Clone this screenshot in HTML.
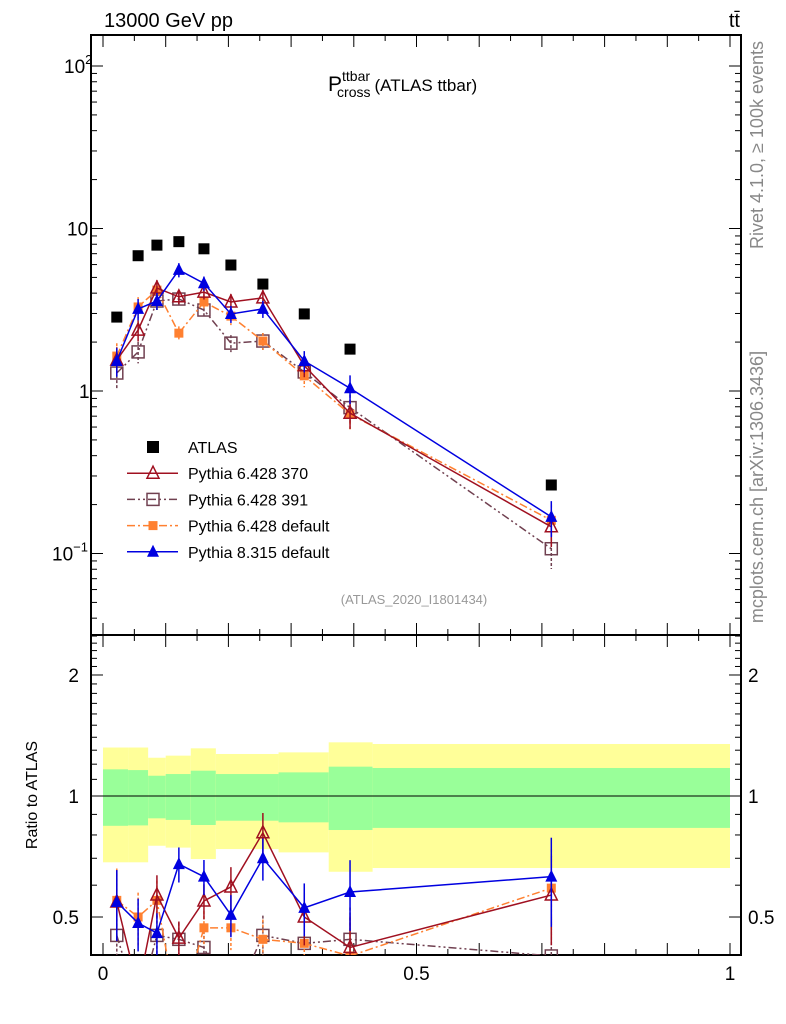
<!DOCTYPE html>
<html><head><meta charset="utf-8"><style>
body{margin:0;background:#fff;}
svg{display:block;font-family:"Liberation Sans",sans-serif;}
</style></head><body>
<svg id="c" width="786" height="1024" viewBox="0 0 786 1024">
<g id="bands"></g><g id="axes"></g><g id="series"></g>
<text x="104" y="27" font-size="20">13000 GeV pp</text>
<text x="740" y="27" font-size="20" text-anchor="end">tt̄</text>
<text x="328" y="91" font-size="21">P<tspan font-size="14" dy="-10">ttbar</tspan><tspan font-size="14" dx="-33" dy="16">cross</tspan><tspan font-size="17" dy="-6" dx="4">(ATLAS ttbar)</tspan></text>
<text x="414" y="604" font-size="13" fill="#999" text-anchor="middle">(ATLAS_2020_I1801434)</text>
<text transform="translate(763,145) rotate(-90)" font-size="18" fill="#888" text-anchor="middle">Rivet 4.1.0, ≥ 100k events</text>
<text transform="translate(763,487) rotate(-90)" font-size="18" fill="#888" text-anchor="middle">mcplots.cern.ch [arXiv:1306.3436]</text>
<text transform="translate(37,795) rotate(-90)" font-size="16" text-anchor="middle">Ratio to ATLAS</text>
<g id="legend"></g>
</svg>
<script>
const xs=[0.022,0.056,0.086,0.121,0.161,0.204,0.255,0.321,0.394,0.715];
const atlas=[2.85,6.8,7.9,8.3,7.5,5.96,4.55,2.98,1.81,0.264];
const p8=[1.53,3.2,3.58,5.56,4.6,2.98,3.2,1.53,1.04,0.168];
const p370=[1.55,2.37,4.3,3.8,4.06,3.53,3.74,1.43,0.73,0.146];
const p391=[1.29,1.74,3.58,3.68,3.15,1.97,2.03,1.31,0.79,0.107];
const pdef=[1.64,3.29,4.18,2.27,3.53,2.89,2.03,1.24,0.72,0.16];
const r8=[0.545,0.483,0.456,0.677,0.63,0.506,0.70,0.527,0.577,0.63];
const r370=[0.545,0.33,0.567,0.443,0.548,0.594,0.81,0.5,0.42,0.567];
const r391=[0.45,0.3,0.45,0.44,0.42,0.3,0.45,0.43,0.44,0.40];
const rdef=[0.55,0.5,0.55,0.28,0.47,0.47,0.44,0.43,0.40,0.59];
const relErr=[0.2,0.15,0.12,0.1,0.1,0.12,0.12,0.15,0.2,0.25];
const binEdges=[0,0.04,0.072,0.1,0.14,0.18,0.28,0.36,0.43,1.0];
const yelHi=[1.32,1.32,1.245,1.26,1.314,1.272,1.284,1.36,1.347];
const grnHi=[1.165,1.16,1.123,1.134,1.156,1.134,1.145,1.183,1.174];
const grnLo=[0.843,0.845,0.88,0.872,0.847,0.868,0.86,0.823,0.833];
const yelLo=[0.684,0.684,0.752,0.744,0.697,0.738,0.724,0.648,0.662];
const xTicks=[0,0.5,1];const xTickLabels=["0","0.5","1"];
const rTicks=[0.5,1,2];const rTickLabels=["0.5","1","2"];

const NS="http://www.w3.org/2000/svg";
const L=91,R=741,T=35,MB=635,RB=955;
const X=v=>103+v*627;
const Y=v=>391-Math.log10(v)*162.5;
const RY=v=>796-Math.log10(v)*402;
function mk(tag,at,par){const e=document.createElementNS(NS,tag);for(const k in at)e.setAttribute(k,at[k]);par.appendChild(e);return e;}
const gB=document.getElementById('bands'),gA=document.getElementById('axes'),gS=document.getElementById('series'),gL=document.getElementById('legend');
const defs=mk('defs',{},gA);
const c1=mk('clipPath',{id:'cm'},defs);mk('rect',{x:L,y:T,width:R-L,height:MB-T},c1);
const c2=mk('clipPath',{id:'cr'},defs);mk('rect',{x:L,y:MB,width:R-L,height:RB-MB},c2);
for(let i=0;i<binEdges.length-1;i++){
 const x0=X(binEdges[i]),w=X(binEdges[i+1])-x0;
 let r=mk('rect',{x:x0,y:RY(yelHi[i]),width:w,height:RY(yelLo[i])-RY(yelHi[i]),fill:'#ffff99'},gB);
 
 r=mk('rect',{x:x0,y:RY(grnHi[i]),width:w,height:RY(grnLo[i])-RY(grnHi[i]),fill:'#99ff99'},gB);
 
}
mk('line',{x1:L,x2:R,y1:RY(1),y2:RY(1),stroke:'#000','stroke-width':1},gB);
let f=mk('rect',{x:L,y:T,width:R-L,height:MB-T,fill:'none',stroke:'#000','stroke-width':2},gA);

f=mk('rect',{x:L,y:MB,width:R-L,height:RB-MB,fill:'none',stroke:'#000','stroke-width':2},gA);

for(let k=0;k<=20;k++){const v=k*0.05,x=X(v),len=(k%2==0)?12:6;
 mk('line',{x1:x,x2:x,y1:T,y2:T+len,stroke:'#000'},gA);
 mk('line',{x1:x,x2:x,y1:MB,y2:MB-len,stroke:'#000'},gA);
 mk('line',{x1:x,x2:x,y1:MB,y2:MB+len,stroke:'#000'},gA);
 mk('line',{x1:x,x2:x,y1:RB,y2:RB-len,stroke:'#000'},gA);}
xTicks.forEach((v,i)=>{const t=mk('text',{x:X(v),y:RB+25,'font-size':19,'text-anchor':'middle'},gA);t.textContent=xTickLabels[i];
 });
for(let d=-2;d<=2;d++)for(let m=1;m<10;m++){const v=m*Math.pow(10,d),y=Y(v);if(y<T||y>MB)continue;const len=m==1?12:6;
 mk('line',{x1:L,x2:L+len,y1:y,y2:y,stroke:'#000'},gA);mk('line',{x1:R,x2:R-len,y1:y,y2:y,stroke:'#000'},gA);}
[[Y(100),'10','2'],[Y(10),'10',''],[Y(1),'1',''],[Y(0.1),'10','−1']].forEach(a=>{
 const t=mk('text',{x:a[2]?(a[2]=='2'?64:52):(a[1]=='1'?79:67),y:a[0]+7,'font-size':19},gA);t.textContent=a[1];
 
 if(a[2]){const s=mk('tspan',{'font-size':13,dy:-9},t);s.textContent=a[2];}});
[0.4,0.5,0.6,0.7,0.8,0.9,1,1.1,1.2,1.3,1.4,1.5,1.6,1.7,1.8,1.9,2,2.1,2.2,2.3,2.4,2.5].forEach(v=>{const y=RY(v);if(y<MB||y>RB)return;
 const len=[0.5,1,2].includes(v)?12:6;
 mk('line',{x1:L,x2:L+len,y1:y,y2:y,stroke:'#000'},gA);mk('line',{x1:R,x2:R-len,y1:y,y2:y,stroke:'#000'},gA);});
rTicks.forEach((v,i)=>{[[79,'end'],[748,'start']].forEach(p=>{const t=mk('text',{x:p[0],y:RY(v)+7,'font-size':19,'text-anchor':p[1]},gA);t.textContent=rTickLabels[i];
 });});
function marker(g,type,x,y,col,s){
 if(type=='sq')mk('rect',{x:x-s,y:y-s,width:2*s,height:2*s,fill:col},g);
 else if(type=='osq')mk('rect',{x:x-s,y:y-s,width:2*s,height:2*s,fill:'#fff','fill-opacity':0,stroke:col,'stroke-width':1.5},g);
 else if(type=='tri')mk('polygon',{points:`${x},${y-s-1} ${x-s},${y+s-1} ${x+s},${y+s-1}`,fill:col},g);
 else if(type=='otri')mk('polygon',{points:`${x},${y-s-1} ${x-s},${y+s-1} ${x+s},${y+s-1}`,fill:'none',stroke:col,'stroke-width':1.5},g);}
const series=[
 {name:'pythia-6428-391',vals:p391,rat:r391,col:'#704050',m:'osq',dash:'8,3,2,3,2,3'},
 {name:'pythia-6428-default',vals:pdef,rat:rdef,col:'#ff8030',m:'sq',dash:'8,3,2,3',small:true},
 {name:'pythia-6428-370',vals:p370,rat:r370,col:'#a01020',m:'otri',dash:''},
 {name:'pythia-8315-default',vals:p8,rat:r8,col:'#0000e0',m:'tri',dash:''}];
series.forEach(s=>{
 [['cm',s.vals,Y,'main'],['cr',s.rat,RY,'ratio']].forEach(p=>{
  const g=mk('g',{'clip-path':`url(#${p[0]})`},gS);
  
  const pts=xs.map((x,i)=>X(x)+','+p[2](p[1][i])).join(' ');
  const ln=mk('polyline',{points:pts,fill:'none',stroke:s.col,'stroke-width':1.5,'stroke-dasharray':s.dash},g);
  
  xs.forEach((x,i)=>{const v=p[1][i],e=relErr[i];
   mk('line',{x1:X(x),x2:X(x),y1:p[2](v*(1+e)),y2:p[2](v*(1-e)),stroke:s.col,'stroke-width':1.5,'stroke-dasharray':s.dash?'3,2':''},g);
   marker(g,s.m,X(x),p[2](v),s.col,s.small?4.5:6);});
 });});
const ga=mk('g',{'clip-path':'url(#cm)'},gS);

xs.forEach((x,i)=>marker(ga,'sq',X(x),Y(atlas[i]),'#000',5.5));
const leg=[['ATLAS','sq','#000',''],['Pythia 6.428 370','otri','#a01020',''],['Pythia 6.428 391','osq','#704050','8,3,2,3,2,3'],['Pythia 6.428 default','sq','#ff8030','8,3,2,3'],['Pythia 8.315 default','tri','#0000e0','']];
leg.forEach((l,i)=>{const y=447+i*26.2;const g=mk('g',{},gL);
 
 if(i>0)mk('line',{x1:127,x2:178,y1:y,y2:y,stroke:l[2],'stroke-width':1.5,'stroke-dasharray':l[3]},g);
 marker(g,l[1],153,y,l[2],i==3?4.5:6);
 const t=mk('text',{x:188,y:y+6,'font-size':16},g);t.textContent=l[0];});
</script>
</body></html>
